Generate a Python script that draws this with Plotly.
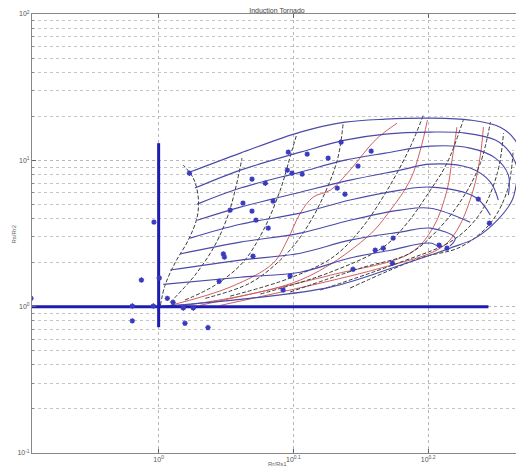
import plotly.graph_objects as go

# ---------------- data ----------------
# blue solid family (top to bottom)
B1_x = [1.055, 1.150, 1.274, 1.375, 1.473, 1.591, 1.703, 1.793, 1.839, 1.861]
B1_y = [8.31, 11.20, 15.59, 18.24, 19.12, 19.43, 18.83, 16.86, 13.75, 10.35]
B2_x = [1.064, 1.150, 1.274, 1.375, 1.473, 1.591, 1.689, 1.778, 1.824, 1.848, 1.842]
B2_y = [6.46, 8.57, 11.38, 13.75, 15.11, 15.59, 15.35, 13.75, 11.20, 8.31, 6.26]
B3_x = [1.068, 1.150, 1.274, 1.375, 1.473, 1.591, 1.703, 1.778, 1.818, 1.818]
B3_y = [5.02, 6.46, 8.31, 10.03, 11.20, 12.50, 12.12, 10.35, 7.92, 5.78]
B4_x = [1.068, 1.150, 1.274, 1.387, 1.511, 1.591, 1.703, 1.763, 1.787]
B4_y = [3.90, 4.79, 6.06, 7.32, 8.57, 9.42, 8.85, 7.10, 5.35]
B5_x = [1.055, 1.150, 1.274, 1.387, 1.511, 1.591, 1.718, 1.763]
B5_y = [2.94, 3.66, 4.36, 5.35, 6.26, 6.56, 5.60, 4.22]
B6_x = [1.037, 1.150, 1.274, 1.387, 1.511, 1.591, 1.703]
B6_y = [2.29, 2.76, 3.18, 3.90, 4.57, 4.71, 3.78]
B7_x = [1.020, 1.150, 1.274, 1.387, 1.511, 1.591, 1.660, 1.645]
B7_y = [1.78, 2.08, 2.32, 2.85, 3.23, 3.44, 2.94, 2.59]
B8_x = [1.008, 1.150, 1.274, 1.387, 1.486, 1.591, 1.618]
B8_y = [1.42, 1.59, 1.72, 2.15, 2.43, 2.72, 2.51]
B9_x = [1.000, 1.169, 1.341, 1.511, 1.645, 1.718, 1.784, 1.830, 1.845, 1.854]
B9_y = [1.00, 1.14, 1.36, 1.92, 2.51, 2.94, 3.90, 5.35, 7.32, 9.27]

# black dashed family (left to right)
D1_x = [1.003, 1.011, 1.029, 1.052, 1.068, 1.070, 1.061, 1.043]
D1_y = [1.02, 1.40, 2.01, 2.85, 4.09, 5.60, 7.56, 9.27]
D2_x = [1.020, 1.064, 1.101, 1.126, 1.142, 1.153]
D2_y = [1.07, 1.64, 2.63, 4.22, 6.77, 10.35]
D3_x = [1.046, 1.101, 1.155, 1.196, 1.231, 1.256, 1.267]
D3_y = [1.11, 1.40, 2.01, 3.33, 6.26, 11.74, 15.35]
D4_x = [1.083, 1.169, 1.231, 1.274, 1.318, 1.357, 1.371]
D4_y = [1.14, 1.45, 2.08, 2.99, 5.10, 10.03, 18.24]
D5_x = [1.130, 1.252, 1.347, 1.411, 1.478, 1.537, 1.572]
D5_y = [1.18, 1.57, 2.18, 3.33, 6.26, 12.31, 20.37]
D6_x = [1.190, 1.341, 1.468, 1.529, 1.591, 1.637, 1.683]
D6_y = [1.22, 1.72, 2.55, 3.72, 6.26, 9.57, 18.83]
D7_x = [1.252, 1.411, 1.537, 1.618, 1.683, 1.733, 1.763]
D7_y = [1.26, 1.83, 2.32, 3.49, 5.60, 9.57, 18.24]
D8_x = [1.318, 1.511, 1.654, 1.733, 1.784, 1.803]
D8_y = [1.30, 2.01, 2.85, 4.36, 8.17, 15.35]
D9_x = [1.387, 1.564, 1.674, 1.763, 1.815, 1.833]
D9_y = [1.34, 2.15, 2.55, 3.72, 6.26, 11.74]

# red family
R1_x = [1.020, 1.130, 1.216, 1.246, 1.274, 1.302, 1.341, 1.387, 1.448, 1.503]
R1_y = [1.02, 1.36, 1.98, 2.85, 4.36, 5.60, 6.26, 8.57, 13.75, 17.96]
R2_x = [1.046, 1.274, 1.428, 1.486, 1.537, 1.564, 1.583]
R2_y = [1.02, 1.52, 2.99, 4.57, 7.32, 11.74, 18.83]
R3_x = [1.073, 1.341, 1.537, 1.599, 1.637, 1.651, 1.665]
R3_y = [1.02, 1.64, 2.32, 3.49, 6.26, 10.03, 16.86]
R4_x = [1.111, 1.460, 1.618, 1.665, 1.712, 1.733, 1.742]
R4_y = [1.02, 1.83, 2.51, 3.33, 6.26, 10.85, 16.86]

# measured points (asterisks)
pts_x = [0.804, 0.956, 0.991, 0.956, 0.971, 0.992, 1.001, 1.015, 1.025, 1.043,
         1.061, 1.046, 1.088, 1.109, 1.054, 1.117, 1.119, 1.175, 1.130, 1.155,
         1.173, 1.181, 1.206, 1.216, 1.173, 1.200, 1.248, 1.289, 1.246, 1.256,
         1.278, 1.252, 1.237, 1.366, 1.336, 1.438, 1.406, 1.357, 1.375, 1.727,
         1.760, 1.493, 1.448, 1.468, 1.615, 1.637, 1.491, 1.394]
pts_y = [1.14, 1.01, 1.01, 0.80, 1.52, 3.78, 1.57, 1.14, 1.07, 0.98,
         0.98, 0.77, 0.72, 1.49, 8.17, 2.29, 2.18, 2.21, 4.57, 5.10,
         4.50, 3.90, 3.44, 5.26, 7.44, 6.98, 11.38, 11.03, 8.57, 8.17,
         8.05, 1.62, 1.30, 13.32, 10.35, 11.56, 9.13, 6.46, 5.87, 5.43,
         3.72, 2.94, 2.43, 2.51, 2.63, 2.51, 1.98, 1.80]

# thick reference cross
hline_x = [0.805, 1.757]
hline_y = [1.0, 1.0]
vline_x = [1.0, 1.0]
vline_y = [0.724, 13.1]

x_tickvals = [1.0, 1.2589, 1.5849]
x_ticktext = ["10<sup>0</sup>", "10<sup>0.1</sup>", "10<sup>0.2</sup>"]
y_tickvals = [0.1, 1, 10, 100]
y_ticktext = ["10<sup>-1</sup>", "10<sup>0</sup>", "10<sup>1</sup>", "10<sup>2</sup>"]
y_minor = [0.2, 0.3, 0.4, 0.5, 0.6, 0.7, 0.8, 0.9,
           2, 3, 4, 5, 6, 7, 8, 9, 20, 30, 40, 50, 60, 70, 80, 90]

blue_curves = [(B1_x, B1_y), (B2_x, B2_y), (B3_x, B3_y), (B4_x, B4_y), (B5_x, B5_y),
               (B6_x, B6_y), (B7_x, B7_y), (B8_x, B8_y), (B9_x, B9_y)]
dash_curves = [(D1_x, D1_y), (D2_x, D2_y), (D3_x, D3_y), (D4_x, D4_y), (D5_x, D5_y),
               (D6_x, D6_y), (D7_x, D7_y), (D8_x, D8_y), (D9_x, D9_y)]
red_curves = [(R1_x, R1_y), (R2_x, R2_y), (R3_x, R3_y), (R4_x, R4_y)]

fig = go.Figure()
for cx, cy in red_curves:
    fig.add_trace(go.Scatter(x=cx, y=cy, mode="lines", line=dict(color="#d06060", width=1, shape="spline")))
for cx, cy in dash_curves:
    fig.add_trace(go.Scatter(x=cx, y=cy, mode="lines",
                             line=dict(color="#3a3a3a", width=1, dash="4px,2px", shape="spline")))
for cx, cy in blue_curves:
    fig.add_trace(go.Scatter(x=cx, y=cy, mode="lines", line=dict(color="#4a4aa8", width=1.1, shape="spline")))

fig.add_trace(go.Scatter(x=hline_x, y=hline_y, mode="lines", line=dict(color="#1c1cb0", width=3)))
fig.add_trace(go.Scatter(x=vline_x, y=vline_y, mode="lines", line=dict(color="#1c1cb0", width=3)))
fig.add_trace(go.Scatter(x=pts_x, y=pts_y, mode="markers",
                         marker=dict(symbol="asterisk-open", size=4.5, color="#3a3ac0",
                                     line=dict(color="#3a3ac0", width=1.4))))

axis_common = dict(type="log", showgrid=True, gridcolor="#b8b8b8", griddash="dot", gridwidth=1,
                   ticks="inside", ticklen=4, tickcolor="#666", showline=True, linecolor="#888",
                   linewidth=1, mirror="ticks", zeroline=False, automargin=False,
                   tickfont=dict(size=7, color="#555", family="Liberation Sans"))

fig.update_xaxes(range=[-0.094, 0.2697], tickmode="array", tickvals=x_tickvals, ticktext=x_ticktext,
                 **axis_common)
fig.update_yaxes(range=[-1, 2], tickmode="array", tickvals=y_tickvals, ticktext=y_ticktext,
                 minor=dict(tickmode="array", tickvals=y_minor, showgrid=True, gridcolor="#c4c4c4",
                            griddash="dot", ticks="inside", ticklen=2, tickcolor="#888"),
                 **axis_common)

fig.update_layout(
    width=516, height=462,
    margin=dict(l=24, r=2, t=6, b=17, autoexpand=False),
    paper_bgcolor="white", plot_bgcolor="white",
    showlegend=False,
    title=dict(text="Induction Tornado", x=0.5, xref="paper", y=1, yref="container",
               yanchor="top", pad=dict(t=0),
               font=dict(size=7, color="#444", family="Liberation Sans")),
    annotations=[
        dict(text="Rr/Rs1", xref="paper", yref="paper", x=0.5, y=-0.026, yanchor="middle",
             showarrow=False, font=dict(size=6, color="#666", family="Liberation Sans")),
        dict(text="Rs/Rr2", xref="paper", yref="paper", x=-0.047, y=0.5, textangle=-90,
             showarrow=False, font=dict(size=6, color="#666", family="Liberation Sans")),
    ],
)

fig.write_html("out.html")
